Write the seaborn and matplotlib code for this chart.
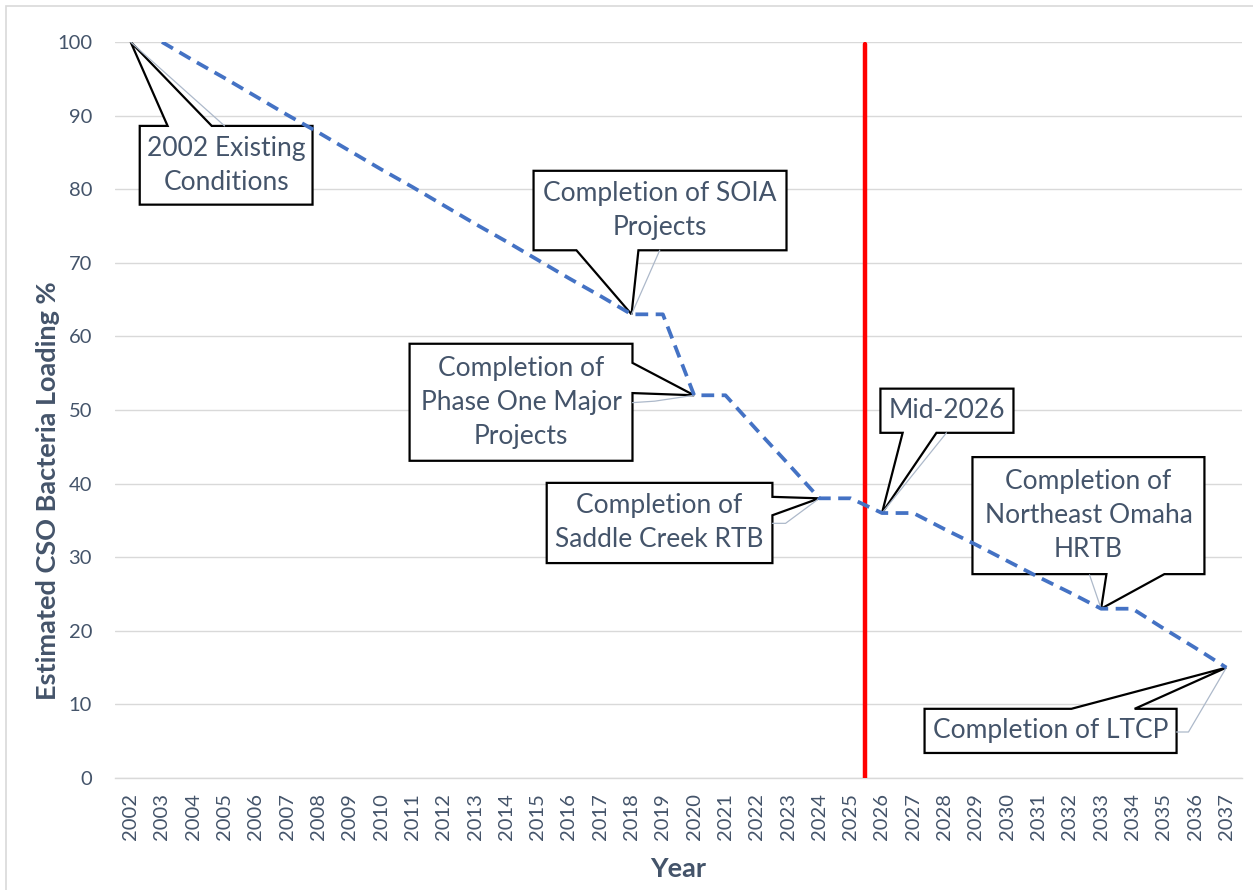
import numpy as np
import pandas as pd
import matplotlib
matplotlib.use("Agg")
import matplotlib.pyplot as plt
from matplotlib.patches import Polygon, Rectangle
import seaborn as sns

# --- data ---
YEARS = ['2002', '2003', '2004', '2005', '2006', '2007', '2008', '2009', '2010',
         '2011', '2012', '2013', '2014', '2015', '2016', '2017', '2018', '2019',
         '2020', '2021', '2022', '2023', '2024', '2025', '2026', '2027', '2028',
         '2029', '2030', '2031', '2032', '2033', '2034', '2035', '2036', '2037']

LOADING = [np.nan, 100, 97.5, 95.1, 92.6, 90.1, 87.7, 85.2, 82.7,
           80.3, 77.8, 75.3, 72.9, 70.4, 67.9, 65.5, 63, 63,
           52, 52, 47.3, 42.7, 38, 38, 36, 36, 33.8,
           31.7, 29.5, 27.3, 25.2, 23, 23, 20.3, 17.7, 15]

NOW_POS = 23.45  # red marker, between 2025 and 2026

CALLOUT_TEXT = ['2002 Existing\nConditions',
                'Completion of SOIA\nProjects',
                'Completion of\nPhase One Major\nProjects',
                'Completion of\nSaddle Creek RTB',
                'Mid-2026',
                'Completion of\nNortheast Omaha\nHRTB',
                'Completion of LTCP']
CALLOUT_YEAR = ['2002', '2018', '2020', '2024', '2026', '2033', '2037']
CALLOUT_VALUE = [100, 63, 52, 38, 36, 23, 15]

# box (x0, x1, y0, y1), side the pointer leaves from, pointer base on that side
CALLOUT_BOX = [
    (0.29, 5.81, 77.9, 88.6, 'top', 1.18, 2.59),
    (12.87, 20.95, 71.7, 82.5, 'bottom', 14.24, 16.22),
    (8.91, 16.03, 43.1, 59.0, 'right', 52.3, 56.4),
    (13.29, 20.50, 29.2, 40.1, 'right', 35.7, 38.2),
    (23.95, 28.20, 46.9, 52.9, 'bottom', 24.66, 25.74),
    (26.89, 34.30, 27.7, 43.6, 'bottom', 31.17, 33.02),
    (25.36, 33.41, 3.4, 9.4, 'top', 30.05, 32.07),
]
# faint leader lines from point to label
LEADERS = [
    [(3.0, 88.6)],
    [(16.9, 71.7)],
    [(16.74, 51.2), (16.03, 51.0)],
    [(20.92, 34.6), (20.50, 34.6)],
    [(26.06, 46.9)],
    [(30.63, 27.6)],
    [(33.79, 6.25), (33.41, 6.25)],
]

TXT = '#44546A'
GRID = '#D9D9D9'


def draw_callout(ax, text, tip, box):
    x0, x1, y0, y1, side, b0, b1 = box
    if side == 'top':
        pts = [(x0, y1), (b0, y1), tip, (b1, y1), (x1, y1), (x1, y0), (x0, y0)]
    elif side == 'bottom':
        pts = [(x0, y1), (x1, y1), (x1, y0), (b1, y0), tip, (b0, y0), (x0, y0)]
    else:  # right
        pts = [(x0, y1), (x1, y1), (x1, b1), tip, (x1, b0), (x1, y0), (x0, y0)]
    ax.add_patch(Polygon(pts, closed=True, facecolor='white', edgecolor='black',
                         lw=1.6, joinstyle='miter', zorder=5))
    ax.text((x0 + x1) / 2, (y0 + y1) / 2, text, ha='center', va='center',
            fontsize=19, color=TXT, linespacing=1.45, zorder=6)


def make_chart():
    sns.set_style('white')
    plt.rcParams['font.family'] = ['Lato', 'DejaVu Sans']

    df = pd.DataFrame({'pos': np.arange(len(YEARS)), 'loading': LOADING})

    fig = plt.figure(figsize=(12.53, 8.90), dpi=100)
    ax = fig.add_axes([115 / 1253, 112 / 890, 1127 / 1253, 736 / 890])

    # chart area border
    fig.patches.append(Rectangle((6 / 1253, -0.05), 1.1, 1.05 - 6 / 890,
                                 transform=fig.transFigure, fill=False,
                                 edgecolor=GRID, lw=1.2))

    sns.lineplot(data=df, x='pos', y='loading', ax=ax, color='#4472C4',
                 lw=2.7, linestyle=(0, (3.4, 2.0)), zorder=8)

    ax.axvline(NOW_POS, ymin=0, ymax=0.997, color='#FF0000', lw=3.2, zorder=4)

    pos = {y: i for i, y in enumerate(YEARS)}
    for text, yr, val, box, lead in zip(CALLOUT_TEXT, CALLOUT_YEAR, CALLOUT_VALUE,
                                        CALLOUT_BOX, LEADERS):
        tip = (pos[yr], val)
        draw_callout(ax, text, tip, box)
        xs = [tip[0]] + [p[0] for p in lead]
        ys = [tip[1]] + [p[1] for p in lead]
        ax.plot(xs, ys, color='#ADB9CA', lw=0.9, zorder=7)

    ax.set_xlim(-0.5, len(YEARS) - 0.5)
    ax.set_ylim(0, 100)
    ax.set_xticks(np.arange(len(YEARS)))
    ax.set_xticklabels(YEARS, rotation=90)
    ax.set_xticks(np.arange(len(YEARS) + 1) - 0.5, minor=True)
    ax.set_yticks(np.arange(0, 101, 10))

    ax.tick_params(axis='x', which='major', length=0, pad=11,
                   labelsize=14.5, labelcolor=TXT)
    ax.tick_params(axis='x', which='minor', length=5.5, width=1, color=GRID,
                   direction='out')
    ax.tick_params(axis='y', length=0, pad=16.5, labelsize=14.5, labelcolor=TXT)

    ax.yaxis.grid(True, color=GRID, lw=1.0)
    ax.xaxis.grid(False)
    ax.set_axisbelow(True)
    for s in ['left', 'top', 'right']:
        ax.spines[s].set_visible(False)
    ax.spines['bottom'].set_color(GRID)
    ax.spines['bottom'].set_linewidth(1.0)

    ax.set_xlabel('Year', fontsize=19.5, fontweight='bold', color=TXT)
    ax.xaxis.set_label_coords(0.5, -0.124)
    ax.xaxis.label.set_va('center')
    ax.set_ylabel('Estimated CSO Bacteria Loading %', fontsize=19.5,
                  fontweight='bold', color=TXT)
    ax.yaxis.set_label_coords(-0.0595, 0.39)
    ax.yaxis.label.set_va('center')
    ax.yaxis.label.set_ha('center')

    fig.savefig('out.png', dpi=100)


if __name__ == '__main__':
    make_chart()
